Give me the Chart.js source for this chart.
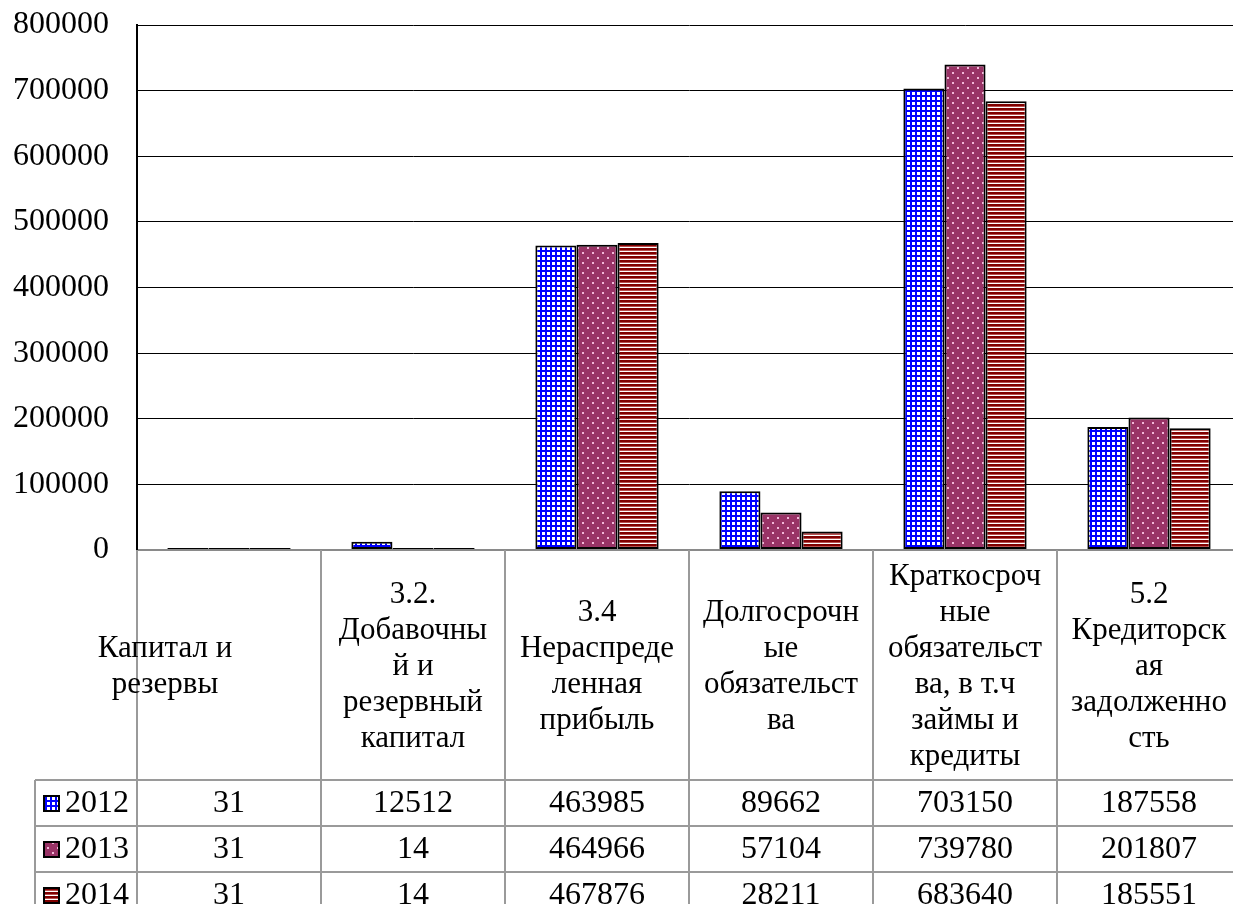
<!DOCTYPE html>
<html lang="ru">
<head>
<meta charset="utf-8">
<title>Капитал и обязательства, 2012–2014</title>
<script src="https://cdn.jsdelivr.net/npm/chart.js@4.4.1/dist/chart.umd.min.js"></script>
<style>
  html, body { margin: 0; padding: 0; background: #fff; overflow: hidden; }
  #wrap { width: 1245px; height: 904px; }
</style>
</head>
<body>
<div id="wrap"><canvas id="chart" width="1245" height="904"></canvas></div>
<script>
// Balance sheet lines (header text of the data table, already wrapped)
const categories = [
  ['Капитал и', 'резервы'],
  ['3.2.', 'Добавочны', 'й и', 'резервный', 'капитал'],
  ['3.4', 'Нераспреде', 'ленная', 'прибыль'],
  ['Долгосрочн', 'ые', 'обязательст', 'ва'],
  ['Краткосроч', 'ные', 'обязательст', 'ва, в т.ч', 'займы и', 'кредиты'],
  ['5.2', 'Кредиторск', 'ая', 'задолженно', 'сть']
];
const years = ['2012', '2013', '2014'];
const values2012 = [31, 12512, 463985, 89662, 703150, 187558];
const values2013 = [31, 14, 464966, 57104, 739780, 201807];
const values2014 = [31, 14, 467876, 28211, 683640, 185551];
const yTicks = [0, 100000, 200000, 300000, 400000, 500000, 600000, 700000, 800000];

const FONT = '"Liberation Serif", "Times New Roman", serif';

// Fill patterns for the three series
function makePattern(size, paint) {
  const c = document.createElement('canvas');
  c.width = size; c.height = size;
  const g = c.getContext('2d');
  paint(g);
  return document.getElementById('chart').getContext('2d').createPattern(c, 'repeat');
}
const gridPattern = makePattern(5, g => {
  g.fillStyle = '#ffffff'; g.fillRect(0, 0, 5, 5);
  g.fillStyle = '#0000ff';
  g.fillRect(0, 0, 5, 2);
  g.fillRect(0, 0, 2, 5);
});
const dotPattern = makePattern(10, g => {
  g.fillStyle = '#993366'; g.fillRect(0, 0, 10, 10);
  g.fillStyle = '#f2b8d8';
  g.fillRect(2, 2, 2, 2);
  g.fillRect(7, 7, 2, 2);
});
const stripePattern = makePattern(4, g => {
  g.fillStyle = '#ffffff'; g.fillRect(0, 0, 4, 4);
  g.fillStyle = '#800000'; g.fillRect(0, 0, 4, 2);
  g.fillStyle = '#b85050'; g.fillRect(0, 2, 4, 1);
});
const seriesFills = [gridPattern, dotPattern, stripePattern];
const seriesValues = [values2012, values2013, values2014];

// Data table under the plot: header with category names, one row per year
const dataTable = {
  id: 'dataTable',
  afterDraw(chart) {
    const ctx = chart.ctx;
    const x = chart.scales.x;
    const area = chart.chartArea;
    const colW = (area.right - area.left) / categories.length;
    const headTop = area.bottom;
    const headBottom = 780;
    const rowH = 46;
    const legendLeft = 35;
    const right = chart.width;

    ctx.save();
    ctx.strokeStyle = '#9a9a9a';
    ctx.lineWidth = 2;
    ctx.beginPath();
    // column separators
    for (let i = 0; i <= categories.length; i++) {
      const px = Math.round(x.getPixelForValue(i) - colW / 2);
      ctx.moveTo(px, headTop);
      ctx.lineTo(px, headBottom + rowH * 3);
    }
    // row separators and legend column border
    for (let r = 0; r <= 3; r++) {
      const py = headBottom + r * rowH;
      ctx.moveTo(legendLeft, py);
      ctx.lineTo(right, py);
    }
    ctx.moveTo(legendLeft, headBottom);
    ctx.lineTo(legendLeft, headBottom + rowH * 3);
    ctx.stroke();

    // header text
    ctx.fillStyle = '#000';
    ctx.font = '31px ' + FONT;
    ctx.textAlign = 'center';
    ctx.textBaseline = 'middle';
    const lineH = 36;
    const midY = (headTop + headBottom) / 2 + 2;
    categories.forEach((lines, i) => {
      let cx = x.getPixelForValue(i);
      if (i === 0) cx -= 64;
      const y0 = midY - (lines.length - 1) * lineH / 2;
      lines.forEach((t, k) => ctx.fillText(t, cx, y0 + k * lineH));
    });

    // rows: legend key, year, values
    ctx.font = '32px ' + FONT;
    years.forEach((yr, r) => {
      const cy = headBottom + r * rowH + rowH / 2 + 1;
      ctx.fillStyle = seriesFills[r];
      ctx.fillRect(44, cy - 8, 15, 15);
      ctx.strokeStyle = '#000';
      ctx.lineWidth = 2;
      ctx.strokeRect(44, cy - 8, 15, 15);
      ctx.fillStyle = '#000';
      ctx.textAlign = 'left';
      ctx.fillText(yr, 65, cy);
      ctx.textAlign = 'center';
      seriesValues[r].forEach((v, i) => {
        ctx.fillText(String(v), x.getPixelForValue(i), cy);
      });
    });
    ctx.restore();
  }
};

new Chart(document.getElementById('chart'), {
  type: 'bar',
  data: {
    labels: categories,
    datasets: years.map((yr, r) => ({
      label: yr,
      data: seriesValues[r],
      backgroundColor: seriesFills[r],
      borderColor: '#000',
      borderWidth: 2,
      borderSkipped: false,
      minBarLength: 2,
      categoryPercentage: 0.67,
      barPercentage: 1.0
    }))
  },
  options: {
    responsive: false,
    animation: false,
    devicePixelRatio: 1,
    layout: { padding: { top: 25, right: 4, bottom: 354, left: 0 } },
    plugins: {
      legend: { display: false },
      tooltip: { enabled: false }
    },
    scales: {
      x: { display: false },
      y: {
        min: 0,
        max: 800000,
        afterFit(scale) {
          scale.width = 137;
          scale.paddingTop = 0;
          scale.paddingBottom = 0;
        },
        afterBuildTicks(scale) { scale.ticks = yTicks.map(v => ({ value: v })); },
        ticks: {
          padding: 28,
          color: '#000',
          font: { family: FONT, size: 32 },
          callback: v => String(v)
        },
        grid: {
          drawTicks: false,
          color: ctx => ctx.tick && ctx.tick.value === 0 ? '#8a8a8a' : '#000',
          lineWidth: ctx => ctx.tick && ctx.tick.value === 0 ? 2 : 1
        },
        border: { display: true, color: '#000', width: 2 }
      }
    }
  },
  plugins: [dataTable]
});
</script>
</body>
</html>
